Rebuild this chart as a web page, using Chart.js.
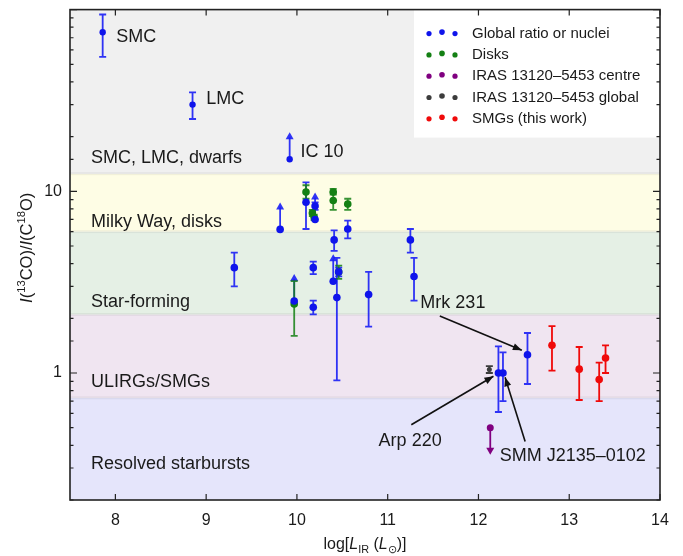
<!DOCTYPE html>
<html>
<head>
<meta charset="utf-8">
<script src="https://cdn.jsdelivr.net/npm/chart.js@4.4.0/dist/chart.umd.min.js"></script>
<style>
  html, body { margin: 0; padding: 0; background: #fff; }
  #wrap { width: 683px; height: 556px; }
</style>
</head>
<body>
<div id="wrap"><canvas id="c"></canvas></div>
<script>
const FONT = '"Liberation Sans", Arial, Helvetica, sans-serif';

// Global ratio or nuclei (blue) with error bars
const globalX  = [7.86, 8.85, 9.31, 10.10, 10.20, 10.18, 10.18, 10.41, 10.56, 10.44, 10.46, 10.79, 11.25, 11.29, 12.22, 12.27, 12.54];
const globalY  = [75, 30, 3.8, 8.7, 8.3, 3.8, 2.3, 5.4, 6.2, 2.6, 3.6, 2.7, 5.4, 3.4, 1.0, 1.0, 1.26];
const globalLo = [55, 25, 3.0, 6.2, 7.9, 3.5, 2.1, 4.7, 5.5, 0.91, 3.4, 1.8, 4.6, 2.5, 0.61, 0.70, 0.87];
const globalHi = [94, 35, 4.6, 11.2, 8.7, 4.1, 2.5, 6.1, 6.9, 4.3, 3.8, 3.6, 6.2, 4.3, 1.40, 1.30, 1.66];
// Global ratio lower limits (arrow up)
const globalLimX = [9.92, 9.815, 10.20, 9.97, 10.40];
const globalLimY = [15.0, 6.17, 7.0, 2.49, 3.20];

// Disks (green)
const diskX  = [10.10, 10.17, 10.19, 10.40, 10.40, 10.56, 9.97, 10.46];
const diskY  = [9.9, 7.6, 7.2, 9.9, 8.9, 8.5, 2.40, 3.6];
const diskLo = [9.1, 7.3, 6.95, 9.6, 7.9, 7.9, 1.60, 3.3];
const diskHi = [10.8, 7.9, 7.45, 10.3, 9.9, 9.1, 3.20, 3.9];

// IRAS 13120-5453 centre (upper limit) and global
const centreX = [12.13];
const centreY = [0.50];
const irasX  = [12.12];
const irasY  = [1.044];
const irasLo = [1.00];
const irasHi = [1.09];

// SMGs (this work)
const smgX  = [12.81, 13.11, 13.33, 13.40];
const smgY  = [1.42, 1.05, 0.92, 1.21];
const smgLo = [1.03, 0.71, 0.70, 1.00];
const smgHi = [1.81, 1.39, 1.14, 1.42];

// background regimes
const bandEdges = [0.2, 0.73, 2.1, 6.0, 12.5, 100];
const bandNames = ['Resolved starbursts', 'ULIRGs/SMGs', 'Star-forming', 'Milky Way, disks', 'SMC, LMC, dwarfs'];
const bandLabelY = [0.317, 0.89, 2.46, 6.8, 15.2];
const bandColors = ['rgb(229,229,251)', 'rgb(240,229,241)', 'rgb(229,240,229)', 'rgb(254,253,229)', 'rgb(240,240,240)'];

// object names next to points
const objNames = ['SMC', 'LMC', 'IC 10'];
const objX = [8.01, 9.0, 10.04];
const objY = [71, 32.4, 16.4];

// annotations with arrows
const noteText = ['Mrk 231', 'Arp 220', 'SMM J2135\u20130102'];
const noteX = [11.36, 10.90, 12.235];
const noteY = [2.43, 0.422, 0.347];
const arrowFromX = [11.574, 11.26, 12.514];
const arrowFromY = [2.06, 0.519, 0.42];
const arrowToX = [12.478, 12.165, 12.293];
const arrowToY = [1.335, 0.959, 0.947];

const legendNames = ['Global ratio or nuclei', 'Disks', 'IRAS 13120\u20135453 centre', 'IRAS 13120\u20135453 global', 'SMGs (this work)'];

const BLUE = 'rgb(15,20,235)';
const GREEN = 'rgb(20,128,20)';
const PURPLE = 'rgb(128,0,128)';
const GREY = 'rgb(60,60,60)';
const RED = 'rgb(240,10,10)';

const pts = (xs, ys) => xs.map((v, i) => ({x: v, y: ys[i]}));

function drawRich(ctx, parts, cx, baseY, size) {
  const segs = parts.map(([t, s]) => {
    const fs = (s === 'sup' || s === 'sub') ? size * 0.68 : size;
    const font = (s === 'i' ? 'italic ' : '') + fs + 'px ' + FONT;
    ctx.font = font;
    return {t, s, font, w: ctx.measureText(t).width};
  });
  const total = segs.reduce((a, g) => a + g.w, 0);
  let xx = cx - total / 2;
  ctx.textAlign = 'left';
  ctx.textBaseline = 'alphabetic';
  segs.forEach(g => {
    ctx.font = g.font;
    const dy = g.s === 'sup' ? -size * 0.4 : g.s === 'sub' ? size * 0.25 : 0;
    ctx.fillText(g.t, xx, baseY + dy);
    xx += g.w;
  });
}

function arrowHead(ctx, x0, y0, x1, y1, len, half) {
  const ang = Math.atan2(y1 - y0, x1 - x0);
  ctx.beginPath();
  ctx.moveTo(x1, y1);
  ctx.lineTo(x1 - len * Math.cos(ang) + half * Math.sin(ang), y1 - len * Math.sin(ang) - half * Math.cos(ang));
  ctx.lineTo(x1 - len * Math.cos(ang) - half * Math.sin(ang), y1 - len * Math.sin(ang) + half * Math.cos(ang));
  ctx.closePath();
  ctx.fill();
}

const extras = {
  id: 'extras',
  beforeDraw(chart) {
    const {ctx, chartArea: a, scales: {y}} = chart;
    ctx.save();
    ctx.fillStyle = '#fff';
    ctx.fillRect(0, 0, chart.width, chart.height);
    for (let i = 0; i < bandColors.length; i++) {
      const y0 = y.getPixelForValue(bandEdges[i]);
      const y1 = y.getPixelForValue(bandEdges[i + 1]);
      ctx.fillStyle = bandColors[i];
      ctx.fillRect(a.left, y1, a.right - a.left, y0 - y1);
    }
    // thin separators between bands
    ctx.fillStyle = 'rgba(0,0,0,0.05)';
    for (let i = 1; i < bandEdges.length - 1; i++) {
      const yy = y.getPixelForValue(bandEdges[i]);
      ctx.fillRect(a.left, yy - 1.5, a.right - a.left, 3);
    }
    ctx.font = '18px ' + FONT;
    ctx.fillStyle = '#1a1a1a';
    ctx.textAlign = 'left';
    ctx.textBaseline = 'middle';
    bandNames.forEach((n, i) => ctx.fillText(n, a.left + 21, y.getPixelForValue(bandLabelY[i])));
    ctx.restore();
  },
  beforeDatasetsDraw(chart) {
    const {ctx, scales: {x, y}} = chart;
    ctx.save();
    chart.data.datasets.forEach(ds => {
      ctx.strokeStyle = ds.barColor;
      ctx.fillStyle = ds.barColor;
      ctx.lineWidth = 1.8;
      ds.data.forEach((p, i) => {
        const px = x.getPixelForValue(p.x);
        const py = y.getPixelForValue(p.y);
        if (ds.lo) {
          const yl = y.getPixelForValue(ds.lo[i]);
          const yh = y.getPixelForValue(ds.hi[i]);
          ctx.beginPath();
          ctx.moveTo(px, yl); ctx.lineTo(px, yh);
          ctx.moveTo(px - 3.5, yl); ctx.lineTo(px + 3.5, yl);
          ctx.moveTo(px - 3.5, yh); ctx.lineTo(px + 3.5, yh);
          ctx.stroke();
        }
        if (ds.limit) {
          const dir = ds.limit === 'lower' ? -1 : 1;
          const tip = py + dir * 27;
          ctx.beginPath();
          ctx.moveTo(px, py); ctx.lineTo(px, tip - dir * 5);
          ctx.stroke();
          arrowHead(ctx, px, py, px, tip, 7, 4);
        }
      });
    });
    ctx.restore();
  },
  afterDraw(chart) {
    const {ctx, chartArea: a, scales: {x, y}} = chart;
    ctx.save();
    // names of objects
    ctx.font = '18px ' + FONT;
    ctx.fillStyle = '#1a1a1a';
    ctx.textAlign = 'left';
    ctx.textBaseline = 'middle';
    objNames.forEach((n, i) => ctx.fillText(n, x.getPixelForValue(objX[i]), y.getPixelForValue(objY[i])));
    // annotations
    noteText.forEach((n, i) => {
      ctx.fillStyle = '#1a1a1a';
      ctx.fillText(n, x.getPixelForValue(noteX[i]), y.getPixelForValue(noteY[i]));
      const x0 = x.getPixelForValue(arrowFromX[i]), y0 = y.getPixelForValue(arrowFromY[i]);
      const x1 = x.getPixelForValue(arrowToX[i]), y1 = y.getPixelForValue(arrowToY[i]);
      ctx.strokeStyle = '#111';
      ctx.fillStyle = '#111';
      ctx.lineWidth = 1.6;
      ctx.beginPath();
      ctx.moveTo(x0, y0); ctx.lineTo(x1, y1);
      ctx.stroke();
      arrowHead(ctx, x0, y0, x1, y1, 9, 3.5);
    });
    // legend box
    const lx = 414, ly = a.top;
    ctx.fillStyle = '#fff';
    ctx.fillRect(lx, ly, a.right - lx, 128);
    const legColors = [BLUE, GREEN, PURPLE, GREY, RED];
    legendNames.forEach((n, i) => {
      const cy = ly + 24 + i * 21.3;
      ctx.fillStyle = legColors[i];
      [[429, 0, 2.6], [442, -1.5, 2.8], [455, 0, 2.6]].forEach(([dx, dy, r]) => {
        ctx.beginPath();
        ctx.arc(dx, cy + dy, r, 0, Math.PI * 2);
        ctx.fill();
      });
      ctx.fillStyle = '#1a1a1a';
      ctx.font = '15px ' + FONT;
      ctx.fillText(n, 472, cy);
    });
    // tick marks inside the frame
    ctx.strokeStyle = '#222';
    ctx.lineWidth = 1.2;
    ctx.beginPath();
    y.ticks.forEach(t => {
      const yy = y.getPixelForValue(t.value);
      if (yy < a.top - 0.5 || yy > a.bottom + 0.5) return;
      const major = [1, 10, 100].includes(t.value);
      const len = major ? 7 : 3.5;
      ctx.moveTo(a.left, yy); ctx.lineTo(a.left + len, yy);
      ctx.moveTo(a.right, yy); ctx.lineTo(a.right - len, yy);
    });
    x.ticks.forEach(t => {
      const xx = x.getPixelForValue(t.value);
      ctx.moveTo(xx, a.bottom); ctx.lineTo(xx, a.bottom - 6);
      ctx.moveTo(xx, a.top); ctx.lineTo(xx, a.top + 6);
    });
    ctx.stroke();
    ctx.lineWidth = 1.6;
    ctx.strokeRect(a.left, a.top, a.right - a.left, a.bottom - a.top);
    // axis titles
    ctx.fillStyle = '#1a1a1a';
    drawRich(ctx, [['log[', ''], ['L', 'i'], ['IR', 'sub'], [' (', ''], ['L', 'i'], ['\u2299', 'sub'], [')]', '']], (a.left + a.right) / 2, 549, 16);
    ctx.translate(32, (a.top + a.bottom) / 2 - 7);
    ctx.rotate(-Math.PI / 2);
    drawRich(ctx, [['I', 'i'], ['(', ''], ['13', 'sup'], ['CO)/', ''], ['I', 'i'], ['(C', ''], ['18', 'sup'], ['O)', '']], 0, 0, 16.5);
    ctx.restore();
  }
};

new Chart(document.getElementById('c').getContext('2d'), {
  type: 'scatter',
  data: {
    datasets: [
      {data: pts(globalX, globalY), lo: globalLo, hi: globalHi, barColor: 'rgba(25,30,245,0.9)',
       pointBackgroundColor: BLUE, pointRadius: ctx => ctx.dataIndex < 2 ? 3.2 : 3.8},
      {data: pts(globalLimX, globalLimY), limit: 'lower', barColor: 'rgba(25,30,245,0.9)',
       pointBackgroundColor: BLUE, pointRadius: ctx => ctx.dataIndex === 0 ? 3.2 : 3.8},
      {data: pts(diskX, diskY), lo: diskLo, hi: diskHi, barColor: 'rgba(20,128,20,0.85)',
       pointBackgroundColor: GREEN, pointRadius: 3.8},
      {data: pts(centreX, centreY), limit: 'upper', barColor: PURPLE,
       pointBackgroundColor: PURPLE, pointRadius: 3.5},
      {data: pts(irasX, irasY), lo: irasLo, hi: irasHi, barColor: GREY,
       pointBackgroundColor: GREY, pointRadius: 2.5},
      {data: pts(smgX, smgY), lo: smgLo, hi: smgHi, barColor: RED,
       pointBackgroundColor: RED, pointRadius: 3.8}
    ]
  },
  options: {
    responsive: true,
    maintainAspectRatio: false,
    animation: false,
    layout: {padding: {top: 1, right: 23, left: 0, bottom: 0}},
    elements: {point: {borderWidth: 0, hoverRadius: 4}},
    plugins: {legend: {display: false}, tooltip: {enabled: false}},
    scales: {
      x: {
        type: 'linear', min: 7.5, max: 14,
        grid: {display: false}, border: {display: false},
        ticks: {stepSize: 1, padding: 3, color: '#1a1a1a', font: {family: FONT, size: 16}},
        afterBuildTicks: s => { s.ticks = s.ticks.filter(t => Number.isInteger(t.value)); },
        afterFit: s => { s.height = 56; }
      },
      y: {
        type: 'logarithmic', min: 0.2, max: 100,
        grid: {display: false}, border: {display: false},
        ticks: {
          autoSkip: false, padding: 0, color: '#1a1a1a', font: {family: FONT, size: 16},
          callback: v => (v === 1 || v === 10) ? String(v) : ''
        },
        afterFit: s => { s.width = 70; }
      }
    }
  },
  plugins: [extras]
});
</script>
</body>
</html>
